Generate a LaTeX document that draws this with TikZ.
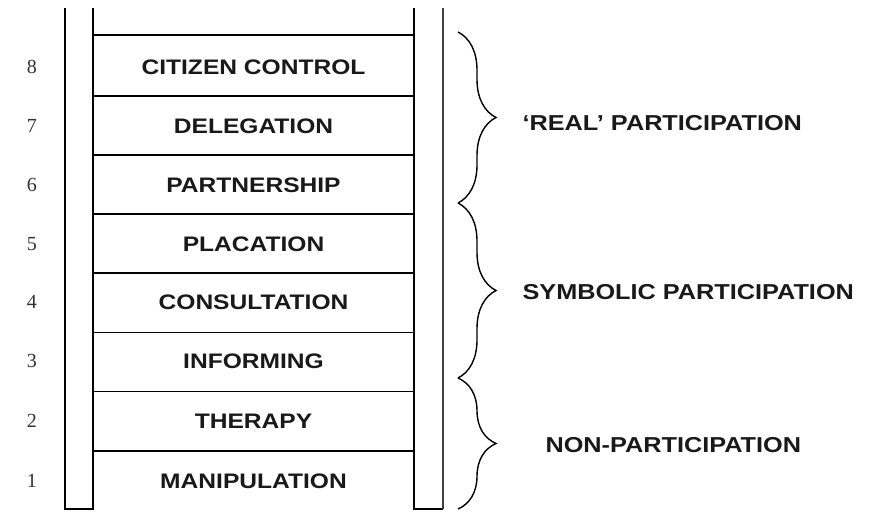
\documentclass[tikz,border=0pt]{standalone}
\usepackage{fontspec}
\setmainfont{Liberation Serif}
\newfontfamily\rungfont[FakeStretch=1.17]{Liberation Sans}
\usetikzlibrary{positioning,decorations.pathreplacing}

\tikzset{
  rail/.style={line width=1.8pt},
  rung/.style={line width=1.2pt},
  rungtext/.style={font=\rungfont\bfseries\fontsize{21pt}{23pt}\selectfont, text=black!90},
  levelnum/.style={font=\fontsize{20pt}{22pt}\selectfont, text=black!80},
  grouptext/.style={font=\rungfont\bfseries\fontsize{21.6pt}{23pt}\selectfont, text=black!90, anchor=west},
  bigbrace/.style={decorate, decoration={brace, amplitude=38pt}, line width=1.4pt},
}

\begin{document}
\begin{tikzpicture}[x=1pt, y=-1pt]
            \useasboundingbox (0,0) rectangle (877,511);

            % The two rails of the ladder
            \draw [rail] (65,8) -- (65,509) -- (93,509) -- (93,8);
            \draw [rail] (414,8) -- (414,509) -- (443,509);
            \draw [line width=1.3pt, black!75] (443,509) -- (443,8);

            % The rungs
            \draw [rung, line width=1.6pt] (93,35) -- (414,35);
            \draw [rung] (93,96) -- (414,96);
            \draw [rung] (93,155) -- (414,155);
            \draw [rung] (93,214) -- (414,214);
            \draw [rung] (93,273) -- (414,273);
            \draw [rung, line width=0.9pt] (93,332) -- (414,332);
            \draw [rung, line width=0.9pt] (93,391) -- (414,391);
            \draw [rung, line width=1.6pt] (93,451) -- (414,451);

            % Now locate each of the rungs and name them
            \node [rungtext] (rung8) at (253.5,67)  {CITIZEN CONTROL};
            \node [rungtext] (rung7) at (253.5,126) {DELEGATION};
            \node [rungtext] (rung6) at (253.5,185) {PARTNERSHIP};
            \node [rungtext] (rung5) at (253.5,244) {PLACATION};
            \node [rungtext] (rung4) at (253.5,302) {CONSULTATION};
            \node [rungtext] (rung3) at (253.5,361) {INFORMING};
            \node [rungtext] (rung2) at (253.5,421) {THERAPY};
            \node [rungtext] (rung1) at (253.5,481) {MANIPULATION};

            % Level numbers
            \node [levelnum] (num8) at (32,67)  {8};
            \node [levelnum] (num7) at (32,126) {7};
            \node [levelnum] (num6) at (32,185) {6};
            \node [levelnum] (num5) at (32,244) {5};
            \node [levelnum] (num4) at (32,302) {4};
            \node [levelnum] (num3) at (32,361) {3};
            \node [levelnum] (num2) at (32,421) {2};
            \node [levelnum] (num1) at (32,481) {1};

            % Ends of the braces
            \coordinate (realtop) at (458,32);
            \coordinate (realbot) at (458,203);
            \coordinate (symbot) at (458,378);
            \coordinate (nonbot) at (458,509);

            \draw [bigbrace] (realtop) -- (realbot);
            \draw [bigbrace] (realbot) -- (symbot);
            \draw [bigbrace] (symbot) -- (nonbot);

            % Groups
            \node [grouptext] (real) at (519,123) {‘REAL’ PARTICIPATION};
            \node [grouptext] (symbolic) at (519,292) {SYMBOLIC PARTICIPATION};
            \node [grouptext] (nonpart) at (542,445) {NON-PARTICIPATION};
\end{tikzpicture}
\end{document}
